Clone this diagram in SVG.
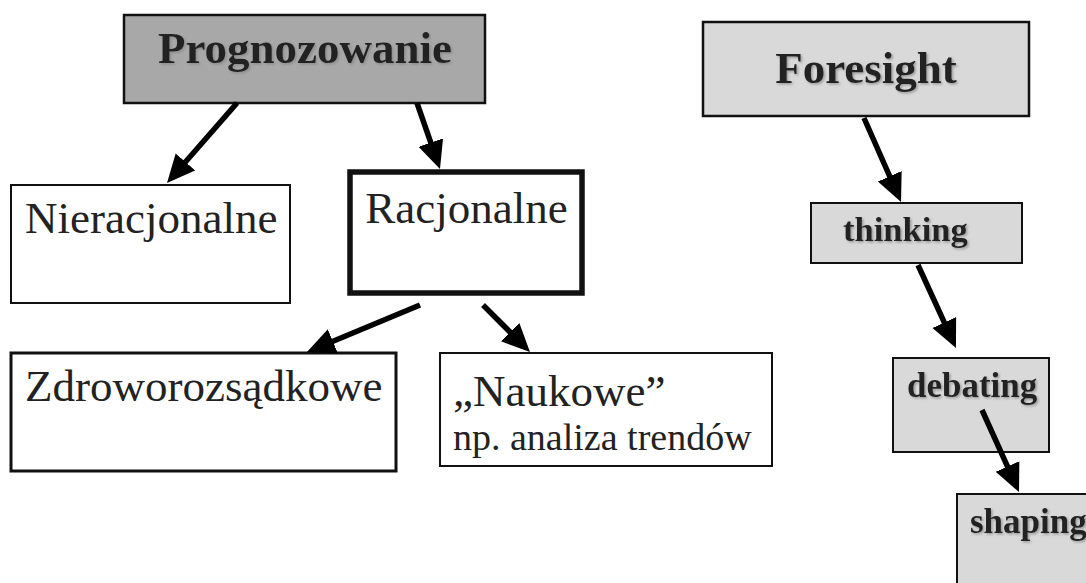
<svg xmlns="http://www.w3.org/2000/svg" width="1086" height="583" viewBox="0 0 1086 583">
  <style>
    .box { stroke: #111; fill: #fff; }
    .dark { fill: #a8a8a8; }
    .light { fill: #d9d9d9; }
    .t { font-family: "Liberation Serif", "Times New Roman", serif; fill: #222; }
    .b { font-weight: bold; filter: url(#soft); }
    .edge { stroke: #000; stroke-width: 5.5; fill: none; marker-end: url(#head); }
  </style>
  <defs>
    <marker id="head" markerUnits="userSpaceOnUse" markerWidth="30" markerHeight="28" refX="18" refY="13" orient="auto" viewBox="0 0 30 28">
      <path d="M0,0 L28,13 L0,26 Z" fill="#000"/>
    </marker>
    <filter id="soft" x="-10%" y="-20%" width="120%" height="150%">
      <feDropShadow dx="1.5" dy="1.5" stdDeviation="1" flood-color="#808080" flood-opacity="0.7"/>
    </filter>
  </defs>

  <rect width="1086" height="583" fill="#fff"/>

  <!-- left tree -->
  <g id="prognozowanie">
    <rect class="box dark" x="124" y="15" width="361" height="88" stroke-width="2.5"/>
    <text class="t b" x="305" y="63" font-size="45" text-anchor="middle">Prognozowanie</text>
  </g>
  <g id="nieracjonalne">
    <rect class="box" x="11" y="185" width="279" height="118" stroke-width="2"/>
    <text class="t" x="25" y="233" font-size="45">Nieracjonalne</text>
  </g>
  <g id="racjonalne">
    <rect class="box" x="350" y="172" width="232" height="121" stroke-width="5.5"/>
    <text class="t" x="466.5" y="223" font-size="45" text-anchor="middle">Racjonalne</text>
  </g>
  <g id="zdroworozsadkowe">
    <rect class="box" x="11" y="353" width="385" height="118" stroke-width="3"/>
    <text class="t" x="25" y="401" font-size="45">Zdroworozsądkowe</text>
  </g>
  <g id="naukowe">
    <rect class="box" x="440" y="353" width="332" height="113" stroke-width="2"/>
    <text class="t" x="453" y="406" font-size="45">„Naukowe”</text>
    <text class="t" x="453" y="450" font-size="38">np. analiza trendów</text>
  </g>

  <!-- right chain -->
  <g id="foresight">
    <rect class="box light" x="703" y="22" width="326" height="94" stroke-width="2.5"/>
    <text class="t b" x="866" y="83" font-size="45" text-anchor="middle">Foresight</text>
  </g>
  <g id="thinking">
    <rect class="box light" x="811" y="203" width="211" height="60" stroke-width="2"/>
    <text class="t b" x="843" y="241" font-size="34.5">thinking</text>
  </g>
  <g id="debating">
    <rect class="box light" x="893" y="358" width="156" height="94" stroke-width="2"/>
    <text class="t b" x="907" y="397" font-size="35">debating</text>
  </g>
  <g id="shaping">
    <rect class="box light" x="957" y="494" width="200" height="150" stroke-width="2"/>
    <text class="t b" x="970" y="533" font-size="35">shaping</text>
  </g>

  <g id="connectors">
    <line class="edge" x1="237" y1="103" x2="173.6" y2="175.5"/>
    <line class="edge" x1="417" y1="103" x2="436.7" y2="159.6"/>
    <line class="edge" x1="420" y1="305" x2="316.2" y2="348.2"/>
    <line class="edge" x1="483" y1="305" x2="522.9" y2="344.9"/>
    <line class="edge" x1="864" y1="118" x2="897" y2="192.8"/>
    <line class="edge" x1="918" y1="265" x2="951.8" y2="338.9"/>
    <line class="edge" x1="982" y1="410" x2="1014.9" y2="482.9"/>
  </g>
</svg>
